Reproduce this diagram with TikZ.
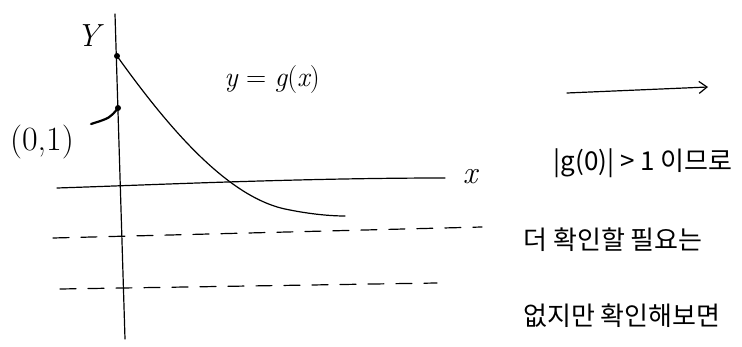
\documentclass[tikz,border=0pt]{standalone}
\usepackage{fontspec}
\newfontfamily\kr{Noto Sans CJK KR}
\usetikzlibrary{arrows.meta}
\begin{document}
\begin{tikzpicture}[x=1pt,y=-1pt,
  pen/.style={line width=1.2pt,line cap=round,line join=round},
  dashline/.style={pen,dash pattern=on 16pt off 12pt},
  lbl/.style={inner sep=0pt,font=\fontsize{28}{30}\selectfont},
  krtext/.style={inner sep=0pt,font=\fontsize{26}{30}\selectfont\kr}]
\useasboundingbox (0,0) rectangle (742,347);
% axes
\coordinate (ytop) at (115,14);
\coordinate (ybot) at (125,339);
\draw[pen] (ytop) -- (ybot);
\coordinate (xl) at (57,188);
\coordinate (xr) at (445,178);
\draw[pen] (xl) .. controls (150,185) and (300,178) .. (xr);
\node[lbl,font=\fontsize{32}{34}\selectfont] (ylab) at (88,36) {\itshape Y};
\node[lbl,font=\fontsize{32}{34}\selectfont] (xlab) at (470,177) {\itshape x};
% curve
\coordinate (c0) at (117,56);
\coordinate (c1) at (345,216);
\draw[pen] (c0) .. controls (170,130) and (230,200) .. (290,210) .. controls (310,214) and (330,216) .. (c1);
\fill (c0) circle (3pt);
% point (0,1)
\coordinate (p1) at (118,108);
\coordinate (lead) at (91,124);
\fill (p1) circle (3pt);
\draw[pen,line width=2.2pt] (p1) .. controls (110,118) .. (lead);
\node[lbl,font=\fontsize{34}{36}\selectfont] (plab) at (42,142) {(0,1)};
\node[lbl] (glab) at (272,80) {{\itshape y} = {\itshape g}({\itshape x})};
% dashed lines
\coordinate (d1l) at (53,238);
\coordinate (d1r) at (482,227);
\draw[dashline] (d1l) -- (d1r);
\coordinate (d2l) at (60,289);
\coordinate (d2r) at (437,283);
\draw[dashline] (d2l) -- (d2r);
% arrow
\coordinate (al) at (567,93);
\coordinate (ar) at (708,87);
\draw[pen,-{Straight Barb[length=8pt,width=12pt]}] (al) -- (ar);
% texts
\node[krtext] (t1) at (643,163) {|g(0)| > 1 이므로};
\node[krtext] (t2) at (613,240) {더 확인할 필요는};
\node[krtext] (t3) at (622,316) {없지만 확인해보면};
\end{tikzpicture}
\end{document}
